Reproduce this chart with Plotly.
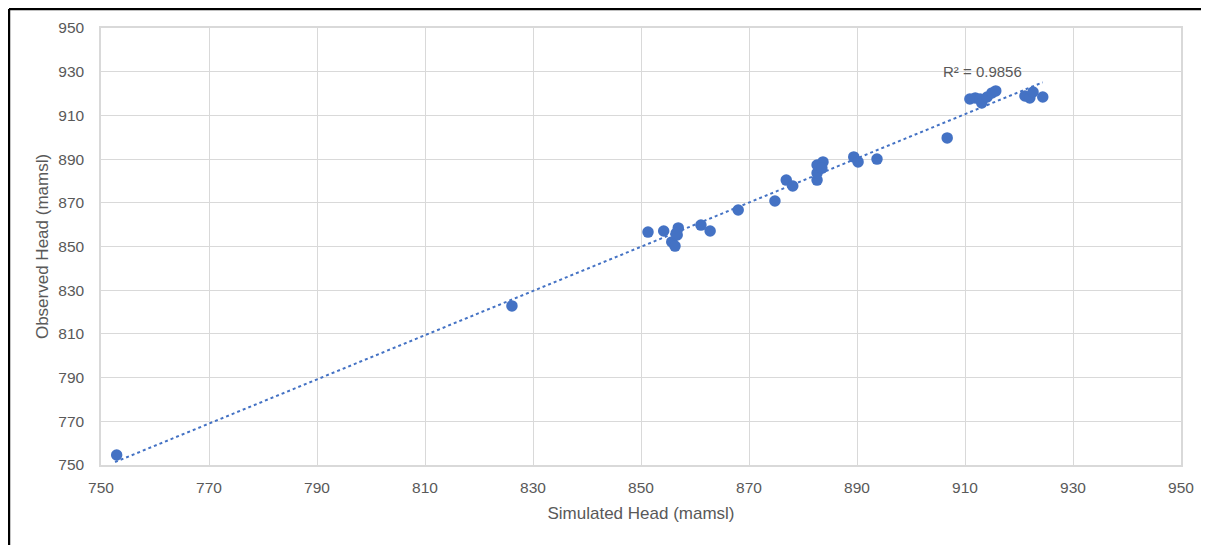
import numpy as np
import plotly.graph_objects as go

# Data
simulated_head = [752.9, 826.1, 851.3, 854.2, 855.7, 856.3, 856.7, 856.9, 856.5, 861.1,
                  862.8, 868.0, 874.8, 876.9, 878.1, 882.6, 882.6, 882.6, 883.7, 883.5,
                  889.4, 890.2, 893.7, 906.7, 910.9, 911.9, 912.8, 913.1, 914.1, 915.0,
                  915.7, 921.1, 922.0, 922.6, 924.4]
observed_head = [754.6, 822.8, 856.6, 857.1, 852.1, 850.2, 855.3, 858.5, 856.0, 859.8,
                 857.1, 866.7, 870.8, 880.4, 877.7, 880.4, 883.6, 887.3, 888.7, 885.9,
                 891.0, 888.7, 890.0, 899.7, 917.5, 918.0, 917.5, 915.7, 918.4, 920.3,
                 921.2, 918.9, 918.0, 920.7, 918.4]
tick_vals = [750, 770, 790, 810, 830, 850, 870, 890, 910, 930, 950]
r2_label = "R² = 0.9856"
x_title = "Simulated Head (mamsl)"
y_title = "Observed Head (mamsl)"

BLUE = "#4472C4"
GRID = "#D9D9D9"
TXT = "#595959"
FONT = "Liberation Sans"

slope, intercept = np.polyfit(simulated_head, observed_head, 1)
tx = np.array([min(simulated_head) - 0.3, max(simulated_head)])
ty = slope * tx + intercept

fig = go.Figure()
fig.add_trace(go.Scatter(x=tx, y=ty, mode="lines",
                         line=dict(color=BLUE, width=2, dash="dot"),
                         hoverinfo="skip", showlegend=False))
fig.add_trace(go.Scatter(x=simulated_head, y=observed_head, mode="markers",
                         marker=dict(color=BLUE, size=11.5, line=dict(width=0)),
                         showlegend=False))

fig.add_annotation(x=913.3, y=930.0, text=r2_label, showarrow=False,
                   font=dict(family=FONT, size=15, color=TXT))

axis_common = dict(range=[750, 950], tickvals=tick_vals, showgrid=True,
                   gridcolor=GRID, gridwidth=1, zeroline=False,
                   showline=True, linecolor=GRID, linewidth=1.5, mirror=True,
                   ticks="", tickfont=dict(family=FONT, size=15.5, color=TXT))
fig.update_xaxes(**axis_common, ticklabelstandoff=8,
                 title=dict(text=x_title, font=dict(family=FONT, size=17, color=TXT), standoff=12))
fig.update_yaxes(**axis_common, ticklabelstandoff=12,
                 title=dict(text=y_title, font=dict(family=FONT, size=17, color=TXT), standoff=5))

# outer black frame (left and top visible in reference)
fig.add_shape(type="line", xref="paper", yref="paper",
              x0=-0.0852, x1=-0.0852, y0=-0.2, y1=1.0435,
              line=dict(color="black", width=2.5))
fig.add_shape(type="line", xref="paper", yref="paper",
              x0=-0.0852, x1=1.05, y0=1.0435, y1=1.0435,
              line=dict(color="black", width=2.5))

fig.update_layout(width=1201, height=537,
                  margin=dict(l=93, r=28, t=20, b=80),
                  plot_bgcolor="white", paper_bgcolor="white",
                  font=dict(family=FONT, color=TXT))

fig.write_html("out.html")
